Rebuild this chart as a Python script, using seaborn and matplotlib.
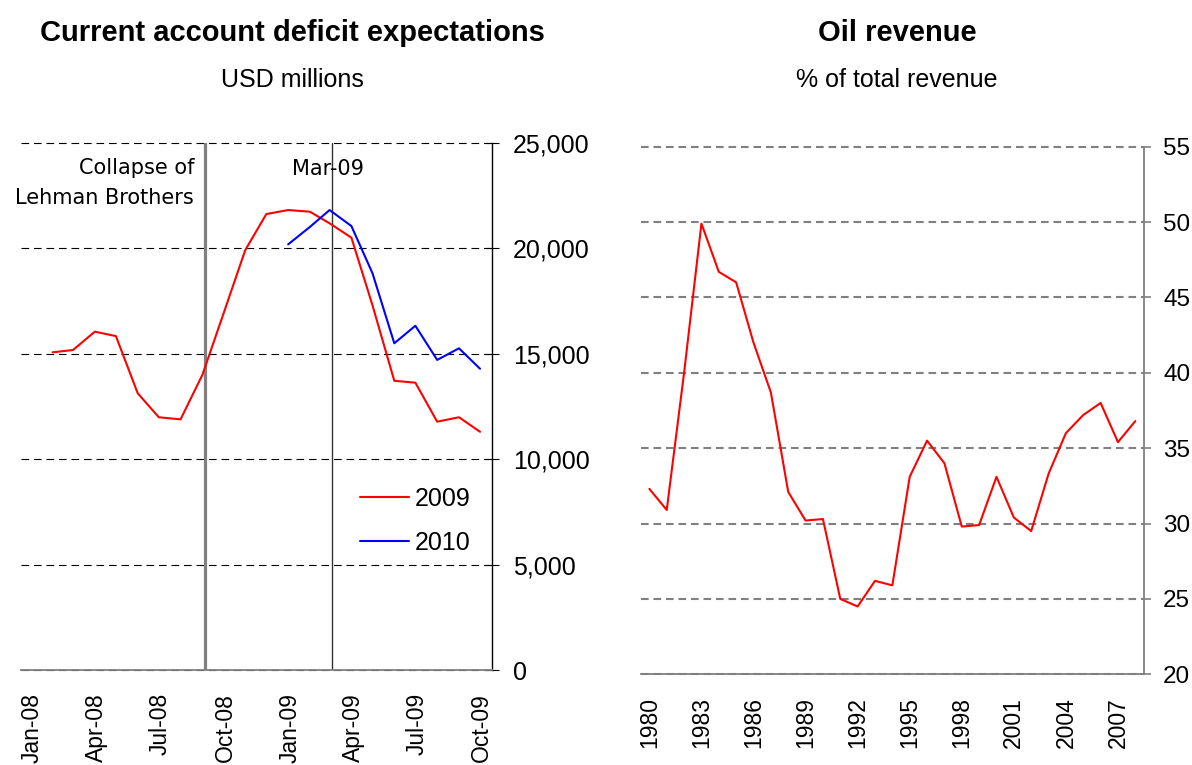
import numpy as np
import pandas as pd
import matplotlib
matplotlib.use("Agg")
import matplotlib.pyplot as plt
import matplotlib.dates as mdates
import matplotlib.ticker as mticker
import seaborn as sns

# ---------------- data ----------------
months_2009 = ["2008-02", "2008-03", "2008-04", "2008-05", "2008-06", "2008-07",
               "2008-08", "2008-09", "2008-10", "2008-11", "2008-12", "2009-01",
               "2009-02", "2009-03", "2009-04", "2009-05", "2009-06", "2009-07",
               "2009-08", "2009-09", "2009-10"]
ca_2009 = [15070, 15180, 16050, 15840, 13130, 11990, 11890, 14000, 16900, 19920,
           21630, 21820, 21740, 21190, 20510, 17300, 13720, 13630, 11780, 11990, 11300]
months_2010 = ["2009-01", "2009-02", "2009-03", "2009-04", "2009-05", "2009-06",
               "2009-07", "2009-08", "2009-09", "2009-10"]
ca_2010 = [20190, 21020, 21820, 21060, 18820, 15500, 16330, 14710, 15260, 14290]
date_ticks = ["2008-01-01", "2008-04-01", "2008-07-01", "2008-10-01",
              "2009-01-01", "2009-04-01", "2009-07-01", "2009-10-01"]
date_range = ["2008-01-01", "2009-11-01"]
lehman_date = "2008-09-19"
mar09_date = "2009-03-19"
ca_ticks = [0, 5000, 10000, 15000, 20000, 25000]

years = list(range(1980, 2009))
oil_share = [32.3, 30.9, 40.0, 49.9, 46.7, 46.0, 42.0, 38.7, 32.1, 30.2, 30.3, 25.0,
             24.5, 26.2, 25.9, 33.1, 35.5, 34.0, 29.8, 29.9, 33.1, 30.4, 29.5, 33.3,
             36.0, 37.2, 38.0, 35.4, 36.8]
year_labels = [1980, 1983, 1986, 1989, 1992, 1995, 1998, 2001, 2004, 2007]
oil_ticks = [20, 25, 30, 35, 40, 45, 50, 55]

# ---------------- style ----------------
sns.set_style("white")
plt.rcParams["font.family"] = ["Liberation Sans", "DejaVu Sans"]
plt.rcParams["lines.scale_dashes"] = False
plt.rcParams["text.color"] = "black"
plt.rcParams["axes.labelcolor"] = "black"
plt.rcParams["xtick.color"] = "black"
plt.rcParams["ytick.color"] = "black"

W, H = 1192, 765
fig = plt.figure(figsize=(W / 100, H / 100), dpi=100)
ax1 = fig.add_axes([21 / W, (H - 670) / H, 471 / W, 527 / H])
ax2 = fig.add_axes([640.7 / W, (H - 674.3) / H, 503.3 / W, 527.6 / H])

# ---------------- left chart ----------------
df1 = pd.concat([
    pd.DataFrame({"date": pd.to_datetime(months_2009) + pd.Timedelta(days=14),
                  "value": ca_2009, "series": "2009"}),
    pd.DataFrame({"date": pd.to_datetime(months_2010) + pd.Timedelta(days=14),
                  "value": ca_2010, "series": "2010"}),
], ignore_index=True)

sns.lineplot(data=df1, x="date", y="value", hue="series",
             palette={"2009": "#FF0000", "2010": "#0000FF"},
             linewidth=1.5, ax=ax1, legend=True, zorder=3)

ax1.set_xlim(pd.Timestamp(date_range[0]), pd.Timestamp(date_range[1]))
ax1.set_ylim(0, 25000)
ax1.set_yticks(ca_ticks)
ax1.yaxis.set_major_formatter(mticker.FuncFormatter(lambda v, p: f"{int(v):,}"))
ax1.yaxis.tick_right()
ax1.set_xticks([pd.Timestamp(d) for d in date_ticks])
ax1.xaxis.set_major_formatter(mdates.DateFormatter("%b-%y"))
ax1.set_xlabel("")
ax1.set_ylabel("")

ax1.yaxis.grid(True, color="black", linestyle=(0, (5.5, 3.5)), linewidth=0.8)
ax1.xaxis.grid(False)
for gl in ax1.get_ygridlines():
    gl.set_clip_on(False)

for s in ["top", "left"]:
    ax1.spines[s].set_visible(False)
ax1.spines["bottom"].set_color("#808080")
ax1.spines["bottom"].set_linewidth(1.3)
ax1.spines["right"].set_color("black")
ax1.spines["right"].set_linewidth(1.0)

ax1.tick_params(axis="y", which="major", direction="inout", length=10, width=0.8,
                color="black", pad=10.1, labelsize=18, labelcolor="black")
ax1.tick_params(axis="x", which="major", direction="out", length=5, width=1.2,
                color="#808080", pad=11.6, labelsize=16.5, labelcolor="black")
for lab in ax1.get_xticklabels():
    lab.set_rotation(90)
    lab.set_rotation_mode("anchor")
    lab.set_ha("right")
    lab.set_va("top")

lehman_x = mdates.date2num(pd.Timestamp(lehman_date))
mar09_x = mdates.date2num(pd.Timestamp(mar09_date))
ax1.axvline(lehman_x, color="#808080", linewidth=2.3, zorder=2)
ax1.axvline(mar09_x, color="#333333", linewidth=1.0, zorder=2)

ax1.annotate("Collapse of\nLehman Brothers", xy=(lehman_x, 1),
             xycoords=ax1.get_xaxis_transform(), xytext=(-8, -11),
             textcoords="offset points", ha="right", va="top", fontsize=15,
             family="DejaVu Sans", linespacing=1.6)
ax1.annotate("Mar-09", xy=(mar09_x, 1),
             xycoords=ax1.get_xaxis_transform(), xytext=(-3, -18.5),
             textcoords="offset points", ha="center", va="center", fontsize=15,
             family="DejaVu Sans")

handles, labels = ax1.get_legend_handles_labels()
ax1.legend(handles, labels, frameon=False, loc="upper left",
           bbox_to_anchor=((360 - 21) / 471, (670 - 487) / 527),
           fontsize=18, handlelength=1.95, handletextpad=0.25,
           labelspacing=0.8, borderpad=0, borderaxespad=0)

# ---------------- right chart ----------------
df2 = pd.DataFrame({"year": years, "share": oil_share})
sns.lineplot(data=df2, x="year", y="share", color="#FF0000", linewidth=1.5,
             ax=ax2, zorder=3)

ax2.set_xlim(years[0] - 0.5, years[-1] + 0.5)
ax2.set_ylim(20, 55)
ax2.set_yticks(oil_ticks)
ax2.yaxis.tick_right()
ax2.set_xticks([y - 0.5 for y in year_labels])
ax2.set_xticklabels([])
ax2.set_xticks(year_labels, minor=True)
ax2.set_xticklabels([str(y) for y in year_labels], minor=True, rotation=90)
ax2.set_xlabel("")
ax2.set_ylabel("")

ax2.yaxis.grid(True, color="#808080", linestyle=(0, (5.5, 3.5)), linewidth=1.5)
ax2.xaxis.grid(False)
for gl in ax2.get_ygridlines():
    gl.set_clip_on(False)

for s in ["top", "left"]:
    ax2.spines[s].set_visible(False)
for s in ["bottom", "right"]:
    ax2.spines[s].set_color("#808080")
    ax2.spines[s].set_linewidth(1.3)

ax2.tick_params(axis="y", which="major", direction="out", length=5, width=1.2,
                color="#808080", pad=8.7, labelsize=17.5, labelcolor="black")
ax2.tick_params(axis="x", which="major", direction="out", length=6, width=1.2,
                color="#808080")
ax2.tick_params(axis="x", which="minor", length=0, pad=16.3, labelsize=16.5,
                labelcolor="black")

# ---------------- titles ----------------
fig.text(292 / W, 1 - 41 / H, "Current account deficit expectations", ha="center",
         va="baseline", fontsize=21, fontweight="bold", color="black")
fig.text(292 / W, 1 - 87 / H, "USD millions", ha="center", va="baseline",
         fontsize=18, color="black")
fig.text(897 / W, 1 - 41 / H, "Oil revenue", ha="center", va="baseline",
         fontsize=21, fontweight="bold", color="black")
fig.text(897 / W, 1 - 87 / H, "% of total revenue", ha="center", va="baseline",
         fontsize=18, color="black")

fig.savefig("out.png", dpi=100)
